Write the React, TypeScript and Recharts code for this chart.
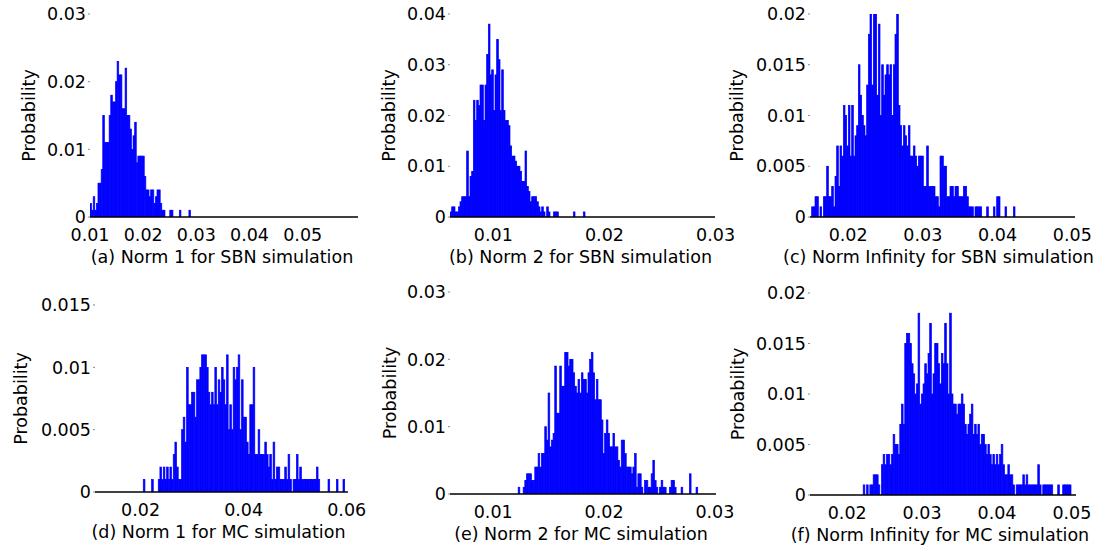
import React from 'react';
import { BarChart, Bar, XAxis, YAxis, Label } from 'recharts';

const TRIALS = 1000;
const FONT = '"DejaVu Sans", Arial, sans-serif';
const FONT_SIZE = 17.5;
const BAR_COLOR = '#0000ff';

// ---------- (a) Norm 1 for SBN simulation ----------
const aTitle = '(a) Norm 1 for SBN simulation';
const aStart = 0.01;
const aBinWidth = 0.0003;
const aBinCount = 168;
const aCounts = [
  2, 1, 3, 1, 2, 5, 5, 7, 15, 11, 11, 11, 15, 18, 17, 17, 20, 23, 21, 21,
  16, 16, 22, 15, 15, 13, 10, 12, 14, 8, 9, 9, 9, 9, 6, 4, 4, 3, 4, 4,
  2, 3, 4, 4, 2, 1, 1, 0, 0, 0, 1, 1, 0, 0, 0, 0, 1, 0, 0, 0,
  0, 0, 1,
];
const aXTicks = [0.01, 0.02, 0.03, 0.04, 0.05];
const aYTicks = [0, 0.01, 0.02, 0.03];

// ---------- (b) Norm 2 for SBN simulation ----------
const bTitle = '(b) Norm 2 for SBN simulation';
const bStart = 0.0061;
const bBinWidth = 0.00015;
const bBinCount = 159;
const bCounts = [
  1, 2, 2, 1, 1, 2, 3, 4, 4, 4, 13, 4, 8, 9, 23, 19, 23, 22, 26, 26,
  19, 26, 32, 38, 28, 29, 21, 28, 35, 31, 21, 29, 21, 19, 19, 18, 14, 12, 12, 11,
  10, 10, 9, 7, 7, 13, 6, 5, 3, 4, 4, 4, 3, 2, 1, 2, 1, 0, 2, 1,
  0, 0, 1, 1, 1, 0, 0, 0, 0, 0, 0, 0, 0, 0, 1, 0, 0, 0, 0, 0,
  1,
];
const bXTicks = [0.01, 0.02, 0.03];
const bYTicks = [0, 0.01, 0.02, 0.03, 0.04];

// ---------- (c) Norm Infinity for SBN simulation ----------
const cTitle = '(c) Norm Infinity for SBN simulation';
const cStart = 0.0149;
const cBinWidth = 0.000223;
const cBinCount = 159;
const cCounts = [
  0, 1, 1, 2, 2, 0, 1, 0, 2, 2, 5, 2, 2, 3, 1, 4, 7, 3, 7, 6,
  11, 10, 7, 11, 6, 11, 6, 8, 9, 15, 12, 10, 9, 8, 13, 18, 20, 13, 20, 20,
  12, 19, 10, 15, 12, 14, 15, 14, 15, 10, 15, 18, 20, 11, 9, 7, 9, 8, 7, 9,
  6, 6, 7, 6, 5, 6, 6, 6, 3, 3, 7, 3, 3, 3, 3, 2, 2, 1, 6, 6,
  5, 5, 2, 2, 3, 3, 2, 3, 3, 2, 2, 2, 3, 3, 2, 1, 1, 1, 0, 1,
  1, 1, 1, 0, 0, 0, 1, 0, 0, 0, 1, 0, 2, 2, 0, 0, 0, 1, 0, 0,
  0, 0, 1,
];
const cXTicks = [0.02, 0.03, 0.04, 0.05];
const cYTicks = [0, 0.005, 0.01, 0.015, 0.02];

// ---------- (d) Norm 1 for MC simulation ----------
const dTitle = '(d) Norm 1 for MC simulation';
const dStart = 0.01115;
const dBinWidth = 0.000323;
const dBinCount = 152;
const dCounts = [
  0, 0, 0, 0, 0, 0, 0, 0, 0, 0, 0, 0, 0, 0, 0, 0, 0, 0, 0, 0,
  0, 0, 0, 0, 0, 0, 0, 0, 0, 1, 0, 0, 0, 0, 1, 0, 0, 0, 1, 2,
  1, 2, 1, 2, 1, 2, 1, 3, 4, 2, 1, 1, 5, 6, 4, 10, 7, 7, 8, 8,
  6, 9, 9, 10, 11, 11, 11, 10, 8, 7, 8, 7, 10, 7, 9, 8, 10, 9, 7, 11,
  5, 7, 5, 10, 9, 10, 11, 5, 9, 6, 6, 4, 3, 7, 7, 10, 3, 3, 5, 3,
  3, 3, 4, 3, 2, 3, 1, 4, 1, 2, 2, 1, 1, 1, 2, 1, 3, 1, 0, 1,
  1, 3, 1, 2, 1, 1, 1, 1, 1, 1, 1, 1, 1, 2, 1, 0, 0, 0, 0, 0,
  1, 0, 0, 0, 0, 1, 0, 0, 0, 1,
];
const dXTicks = [0.02, 0.04, 0.06];
const dYTicks = [0, 0.005, 0.01, 0.015];

// ---------- (e) Norm 2 for MC simulation ----------
const eTitle = '(e) Norm 2 for MC simulation';
const eStart = 0.0061;
const eBinWidth = 0.00015;
const eBinCount = 160;
const eCounts = [
  0, 0, 0, 0, 0, 0, 0, 0, 0, 0, 0, 0, 0, 0, 0, 0, 0, 0, 0, 0,
  0, 0, 0, 0, 0, 0, 0, 0, 0, 0, 0, 0, 0, 0, 0, 0, 0, 0, 0, 0,
  0, 1, 0, 0, 1, 2, 3, 3, 3, 2, 2, 4, 4, 6, 4, 6, 6, 10, 8, 15,
  7, 8, 9, 19, 12, 12, 19, 16, 16, 21, 21, 19, 20, 20, 18, 16, 15, 17, 15, 18,
  17, 17, 15, 18, 20, 21, 18, 14, 17, 14, 14, 11, 6, 9, 11, 9, 7, 7, 9, 7,
  7, 5, 4, 8, 8, 6, 4, 4, 4, 3, 4, 6, 1, 3, 3, 1, 0, 2, 2, 1,
  1, 3, 5, 2, 1, 0, 1, 2, 1, 1, 0, 0, 1, 2, 2, 1, 0, 0, 0, 1,
  0, 0, 0, 0, 3, 0, 0, 0, 1,
];
const eXTicks = [0.01, 0.02, 0.03];
const eYTicks = [0, 0.01, 0.02, 0.03];

// ---------- (f) Norm Infinity for MC simulation ----------
const fTitle = '(f) Norm Infinity for MC simulation';
const fStart = 0.01503;
const fBinWidth = 0.000222;
const fBinCount = 160;
const fCounts = [
  0, 0, 0, 0, 0, 0, 0, 0, 0, 0, 0, 0, 0, 0, 0, 0, 0, 0, 0, 0,
  0, 0, 0, 0, 0, 0, 0, 0, 0, 0, 0, 0, 1, 0, 1, 0, 1, 1, 2, 2,
  2, 1, 0, 3, 4, 3, 4, 4, 3, 4, 6, 5, 5, 4, 7, 9, 7, 15, 16, 16,
  15, 13, 12, 10, 11, 18, 9, 10, 11, 13, 12, 14, 17, 10, 12, 15, 15, 13, 11, 14,
  13, 17, 13, 10, 18, 10, 9, 9, 8, 9, 9, 10, 9, 7, 6, 7, 8, 9, 6, 7,
  6, 7, 5, 6, 6, 5, 4, 5, 4, 3, 4, 3, 4, 3, 4, 5, 3, 2, 2, 3,
  2, 2, 1, 0, 1, 1, 1, 1, 2, 1, 2, 1, 1, 1, 1, 1, 1, 3, 1, 0,
  1, 1, 1, 1, 1, 1, 0, 0, 0, 1, 0, 0, 1, 1, 1, 1, 1,
];
const fXTicks = [0.02, 0.03, 0.04, 0.05];
const fYTicks = [0, 0.005, 0.01, 0.015, 0.02];

// ---------- layout ----------
const Y_W = 90;
const TOP = 10;
const RIGHT = 30;
const X_H = 52;

type Box = { l: number; t: number; r: number; b: number };

type PanelProps = {
  title: string;
  start: number;
  binWidth: number;
  binCount: number;
  counts: number[];
  xTicks: number[];
  yTicks: number[];
  box: Box;
  yLabelGap: number;
  titleShift: number;
};

function Panel(p: PanelProps) {
  // histogram table: one row per bin, positioned at the bin centre
  const data = Array.from({ length: p.binCount }, (_, i) => ({
    x: p.start + p.binWidth * (i + 0.5),
    prob: (p.counts[i] ?? 0) / TRIALS,
  }));
  const plotW = p.box.r - p.box.l;
  const plotH = p.box.b - p.box.t;
  const W = plotW + Y_W + RIGHT;
  const H = plotH + TOP + X_H;
  const band = plotW / p.binCount;
  const hi = p.start + p.binWidth * p.binCount;
  const yMax = p.yTicks[p.yTicks.length - 1];
  const tickStyle = { fill: '#000', fontSize: FONT_SIZE, fontFamily: FONT };

  const barShape = (sp: any) => {
    if (!sp || !sp.height || sp.height <= 0) return <g />;
    const cx = sp.x + sp.width / 2;
    return (
      <rect
        x={cx - band / 2}
        y={sp.y}
        width={band}
        height={sp.height}
        fill={BAR_COLOR}
        stroke={BAR_COLOR}
        strokeWidth={0.7}
      />
    );
  };

  return (
    <div style={{ position: 'absolute', left: p.box.l - Y_W, top: p.box.t - TOP, width: W, height: H }}>
      <BarChart
        width={W}
        height={H}
        data={data}
        margin={{ top: TOP, right: RIGHT, bottom: 0, left: 0 }}
        barCategoryGap={0}
        barGap={0}
      >
        <XAxis
          dataKey="x"
          type="number"
          domain={[p.start, hi]}
          allowDataOverflow
          ticks={p.xTicks}
          interval={0}
          height={X_H}
          axisLine={{ stroke: '#000', strokeWidth: 1.3 }}
          tickLine={false}
          tickSize={0}
          tickMargin={12}
          tick={tickStyle}
        >
          <Label
            content={(lp: any) => {
              const vb = lp.viewBox || {};
              const cx = vb.x + vb.width / 2 + p.titleShift;
              const cy = vb.y + 40;
              return (
                <text
                  x={cx}
                  y={cy}
                  textAnchor="middle"
                  dominantBaseline="central"
                  fill="#000"
                  fontSize={FONT_SIZE}
                  fontFamily={FONT}
                >
                  {p.title}
                </text>
              );
            }}
          />
        </XAxis>
        <YAxis
          domain={[0, yMax]}
          allowDataOverflow
          ticks={p.yTicks}
          interval={0}
          width={Y_W}
          axisLine={false}
          tickLine={{ stroke: '#888' }}
          tickSize={2}
          tickMargin={2}
          tick={tickStyle}
        >
          <Label
            content={(lp: any) => {
              const vb = lp.viewBox || {};
              const cx = vb.x + vb.width - p.yLabelGap;
              const cy = vb.y + vb.height / 2;
              return (
                <text
                  x={cx}
                  y={cy}
                  transform={`rotate(-90 ${cx} ${cy})`}
                  textAnchor="middle"
                  dominantBaseline="central"
                  fill="#000"
                  fontSize={FONT_SIZE}
                  fontFamily={FONT}
                >
                  Probability
                </text>
              );
            }}
          />
        </YAxis>
        <Bar
          dataKey="prob"
          fill={BAR_COLOR}
          barSize={band - 0.001}
          shape={barShape}
          isAnimationActive={false}
        />
      </BarChart>
    </div>
  );
}

export default function App() {
  return (
    <div
      style={{
        position: 'absolute',
        left: 0,
        top: 0,
        width: 1105,
        height: 553,
        background: '#fff',
        overflow: 'hidden',
      }}
    >
      <Panel title={aTitle} start={aStart} binWidth={aBinWidth} binCount={aBinCount} counts={aCounts}
        xTicks={aXTicks} yTicks={aYTicks} box={{ l: 90, t: 14, r: 358, b: 217 }} yLabelGap={61} titleShift={-2} />
      <Panel title={bTitle} start={bStart} binWidth={bBinWidth} binCount={bBinCount} counts={bCounts}
        xTicks={bXTicks} yTicks={bYTicks} box={{ l: 450, t: 14, r: 715, b: 217 }} yLabelGap={61} titleShift={-2} />
      <Panel title={cTitle} start={cStart} binWidth={cBinWidth} binCount={cBinCount} counts={cCounts}
        xTicks={cXTicks} yTicks={cYTicks} box={{ l: 810, t: 14, r: 1075, b: 217 }} yLabelGap={73} titleShift={-4} />
      <Panel title={dTitle} start={dStart} binWidth={dBinWidth} binCount={dBinCount} counts={dCounts}
        xTicks={dXTicks} yTicks={dYTicks} box={{ l: 95, t: 305, r: 348, b: 492 }} yLabelGap={74} titleShift={-3} />
      <Panel title={eTitle} start={eStart} binWidth={eBinWidth} binCount={eBinCount} counts={eCounts}
        xTicks={eXTicks} yTicks={eYTicks} box={{ l: 450, t: 292, r: 716, b: 494 }} yLabelGap={60} titleShift={-2} />
      <Panel title={fTitle} start={fStart} binWidth={fBinWidth} binCount={fBinCount} counts={fCounts}
        xTicks={fXTicks} yTicks={fYTicks} box={{ l: 810, t: 293, r: 1076, b: 495 }} yLabelGap={72} titleShift={-3} />
    </div>
  );
}
